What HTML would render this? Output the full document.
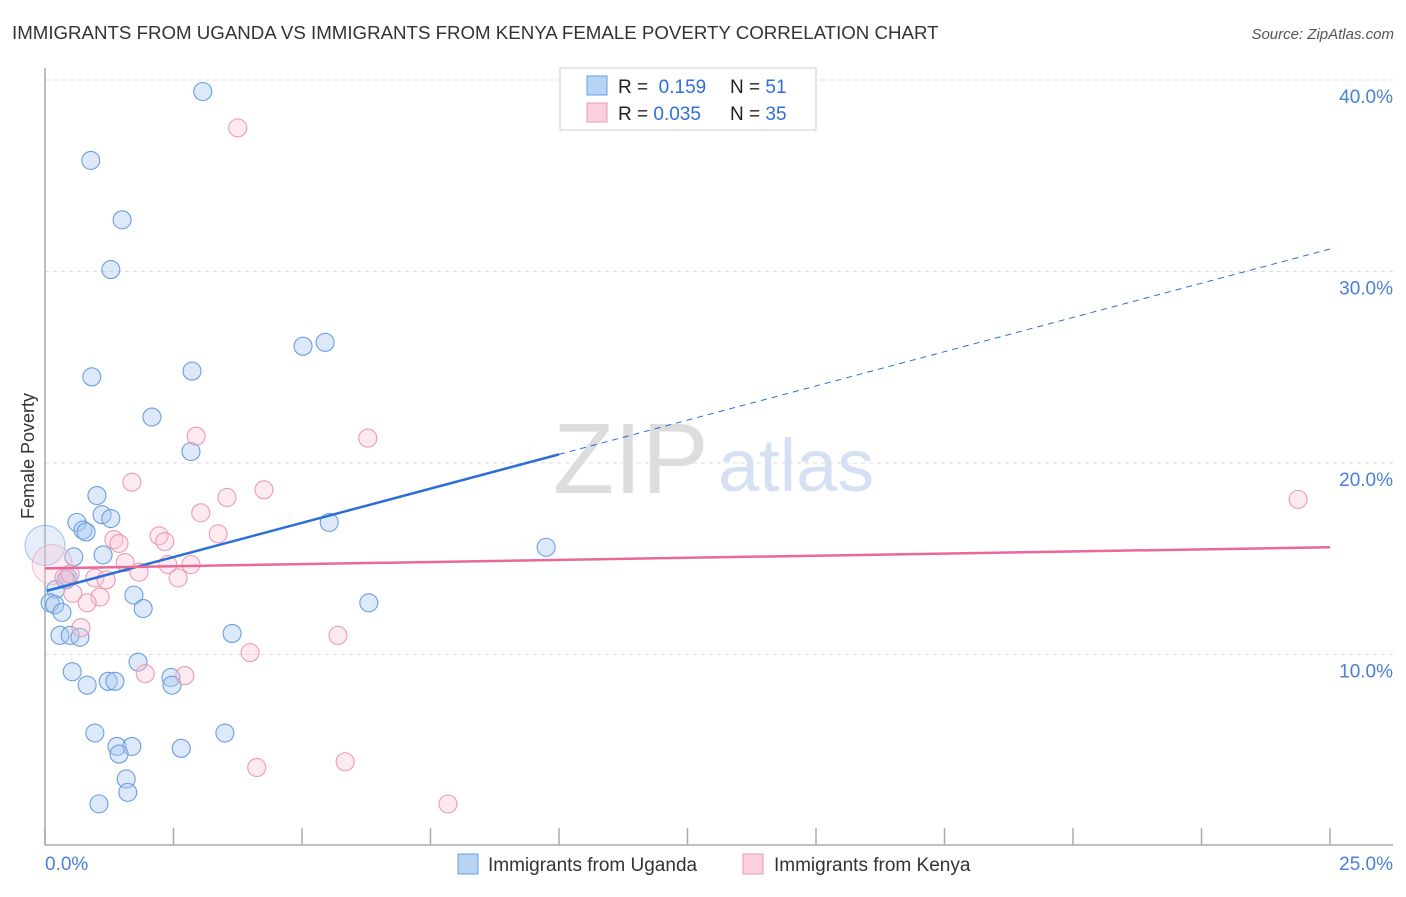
<!DOCTYPE html>
<html><head><meta charset="utf-8"><style>
body{margin:0;background:#fff;font-family:"Liberation Sans",sans-serif;}
svg text{font-family:"Liberation Sans",sans-serif;}
</style></head><body>
<svg id="c" width="1406" height="892" xmlns="http://www.w3.org/2000/svg">
<text x="12" y="39" font-size="18.7" fill="#333">IMMIGRANTS FROM UGANDA VS IMMIGRANTS FROM KENYA FEMALE POVERTY CORRELATION CHART</text>
<text x="1394" y="39" font-size="15" fill="#555" text-anchor="end" font-style="italic">Source: ZipAtlas.com</text>
<text x="34" y="456" font-size="18" fill="#333" text-anchor="middle" transform="rotate(-90 34 456)">Female Poverty</text>
<text x="553" y="493" font-size="100" fill="#ddd" font-family="Liberation Serif">ZIP</text>
<text x="718" y="491" font-size="74" fill="#d5e1f3">atlas</text>
<g id="grid"></g><g id="pts"></g><g id="lines"></g>
<g>
<rect x="560" y="68" width="256" height="62" fill="#fff" stroke="#ccc"/>
<rect x="587" y="76" width="20" height="19" fill="#b8d3f5" stroke="#6a9ee0"/>
<rect x="587" y="103" width="20" height="19" fill="#fbcfdc" stroke="#eb9ab3"/>
<text x="618" y="93" font-size="19" fill="#222">R = <tspan fill="#2f6fd6">&#160;0.159</tspan><tspan x="730">N = </tspan><tspan fill="#2f6fd6"> 51</tspan></text>
<text x="618" y="120" font-size="19" fill="#222">R = <tspan fill="#2f6fd6">0.035</tspan><tspan x="730">N = </tspan><tspan fill="#2f6fd6"> 35</tspan></text>
</g>
<g>
<rect x="458" y="854" width="20" height="20" fill="#b8d3f5" stroke="#6a9ee0"/>
<text x="488" y="871" font-size="19" fill="#333">Immigrants from Uganda</text>
<rect x="743" y="854" width="20" height="20" fill="#fbcfdc" stroke="#eb9ab3"/>
<text x="774" y="871" font-size="19" fill="#333">Immigrants from Kenya</text>
</g>
<text x="45" y="870" font-size="19" fill="#4a7fd6">0.0%</text>
<text x="1393" y="870" font-size="19" fill="#4a7fd6" text-anchor="end">25.0%</text>
</svg>
<script>
const yTicks=[10,20,30,40];
const yTickLabels=["10.0%","20.0%","30.0%","40.0%"];
const ugX=[3.07,0.89,1.50,1.28,0.91,5.02,5.45,2.86,2.08,2.84,1.01,0.62,1.11,1.28,0.74,0.80,0.56,1.13,0,0.45,0.21,0.10,0.19,0.33,1.73,1.91,6.30,5.53,9.75,0.29,0.49,0.68,3.64,1.81,0.53,0.82,1.23,1.36,2.45,2.47,0.97,3.50,1.40,1.69,2.65,1.44,1.58,1.61,1.05,0.41];
const ugY=[39.4,35.8,32.7,30.1,24.5,26.1,26.3,24.8,22.4,20.6,18.3,16.9,17.3,17.1,16.5,16.4,15.1,15.2,15.7,14.0,13.4,12.7,12.6,12.2,13.1,12.4,12.7,16.9,15.6,11.0,11.0,10.9,11.1,9.6,9.1,8.4,8.6,8.6,8.8,8.4,5.9,5.9,5.2,5.2,5.1,4.8,3.5,2.8,2.2,13.9];
const keX=[3.75,0.14,2.94,6.28,1.69,4.26,3.54,3.03,2.22,3.37,1.34,1.44,2.33,1.56,2.39,2.84,1.83,2.59,0.97,1.19,0.54,1.07,0.82,0.70,5.70,3.99,1.95,2.72,4.12,5.84,7.84,24.38,0.37,0.49];
const keY=[37.5,14.7,21.4,21.3,19.0,18.6,18.2,17.4,16.2,16.3,16.0,15.8,15.9,14.8,14.7,14.7,14.3,14.0,14.0,13.9,13.2,13.0,12.7,11.4,11.0,10.1,9.0,8.9,4.1,4.4,2.2,18.1,14.0,14.2];
const ugTrend=[13.3,0.715];
const keTrend=[14.5,0.044];
const xTicks=[0,2.5,5,7.5,10,12.5,15,17.5,20,22.5,25];
const NS="http://www.w3.org/2000/svg";
const X=v=>45+v*(1285/25);
const Y=v=>846-v*19.15;
function mk(t,a,p){const e=document.createElementNS(NS,t);for(const k in a)e.setAttribute(k,a[k]);document.getElementById(p).appendChild(e);return e;}
yTicks.forEach((t,i)=>{
 const l=mk('line',{x1:45,x2:1393,y1:Y(t),y2:Y(t),stroke:'#ddd','stroke-dasharray':'4,4'},'grid');
 
 
 const tx=mk('text',{x:1393,y:Y(t)+23,'font-size':19,fill:'#4a7fd6','text-anchor':'end'},'grid');
 tx.textContent=yTickLabels[i];
 
 
});
const ax=mk('line',{x1:45,x2:1393,y1:845,y2:845,stroke:'#aaa','stroke-width':1.5},'grid');


const ay=mk('line',{x1:45,x2:45,y1:68,y2:845,stroke:'#aaa','stroke-width':1.5},'grid');


xTicks.forEach(t=>{
 const l=mk('line',{x1:X(t),x2:X(t),y1:828,y2:845,stroke:'#aaa','stroke-width':1.5},'grid');
 
 
});
ugX.forEach((x,i)=>{
 const big=i==18;
 const c=mk('circle',{cx:X(x),cy:Y(ugY[i]),r:big?20:9,fill:big?'rgba(170,200,240,0.3)':'rgba(170,200,240,0.4)',stroke:big?'rgba(91,147,221,0.5)':'#6a9ee0','stroke-width':1.1},'pts');
 
 
});
keX.forEach((x,i)=>{
 const big=i==1;
 const c=mk('circle',{cx:X(x),cy:Y(keY[i]),r:big?20:9,fill:big?'rgba(248,195,212,0.3)':'rgba(248,195,212,0.35)',stroke:big?'rgba(232,144,171,0.5)':'#ec9ab4','stroke-width':1.1},'pts');
 
 
});
const f=(tr,x)=>tr[0]+tr[1]*x;
const l1=mk('line',{x1:X(0.04),y1:Y(f(ugTrend,0.04)),x2:X(10),y2:Y(f(ugTrend,10)),stroke:'#2a6fd6','stroke-width':2.5},'lines');


const l2=mk('line',{x1:X(10),y1:Y(f(ugTrend,10)),x2:X(25),y2:Y(f(ugTrend,25)),stroke:'#2a6fd6','stroke-width':1,'stroke-dasharray':'6,5'},'lines');


const l3=mk('line',{x1:X(0),y1:Y(f(keTrend,0)),x2:X(25),y2:Y(f(keTrend,25)),stroke:'#e8689a','stroke-width':2.5},'lines');


</script>
</body></html>
